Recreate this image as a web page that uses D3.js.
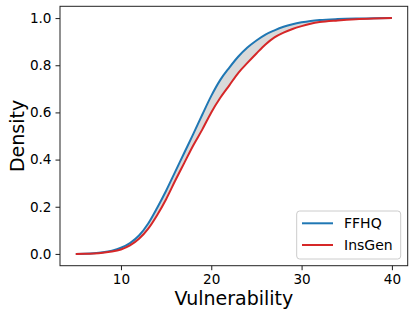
<!DOCTYPE html>
<html><head><meta charset="utf-8">
<script src="https://cdn.jsdelivr.net/npm/d3@7"></script>
<style>html,body{margin:0;padding:0;background:#fff}svg{display:block}</style>
</head><body>
<svg id="chart" width="415" height="317"></svg>
<script>
const vulnerability = [5,6,7,8,9,10,11,12,13,14,15,16,17,18,19,20,21,22,23,24,25,26,27,28,29,30,31,32,34,36,38,40];
const ffhq   = [0,0.001,0.003,0.007,0.014,0.026,0.046,0.078,0.128,0.195,0.268,0.348,0.428,0.508,0.59,0.67,0.738,0.79,0.837,0.875,0.905,0.93,0.948,0.963,0.974,0.982,0.988,0.992,0.996,0.998,0.999,1.0];
const insgen = [0,0.0005,0.002,0.005,0.01,0.019,0.036,0.064,0.106,0.164,0.232,0.31,0.385,0.46,0.527,0.6,0.662,0.715,0.768,0.81,0.85,0.888,0.918,0.938,0.954,0.966,0.976,0.983,0.99,0.995,0.998,1.0];
const xTicks = [10,20,30,40];
const yTicks = [0,0.2,0.4,0.6,0.8,1.0];
const seriesNames = ["FFHQ","InsGen"];
const seriesColors = ["#1f77b4","#d62728"];

const svg = d3.select("#chart");
const L = 60, T = 6.3, R = 407.7, B = 265.7;
const x = d3.scaleLinear().domain([3.25,41.75]).range([L,R]);
const y = d3.scaleLinear().domain([-0.05,1.05]).range([B,T]);
const font = "DejaVu Sans, sans-serif";

const pts = vulnerability.map((v,i)=>({v, a:ffhq[i], b:insgen[i]}));

svg.append("path").datum(pts)
  .attr("d", d3.area().curve(d3.curveMonotoneX).x(d=>x(d.v)).y0(d=>y(d.b)).y1(d=>y(d.a)))
  .attr("fill","#d9d9d9").attr("stroke","none");

[ffhq, insgen].forEach((s,k)=>{
  svg.append("path").datum(vulnerability.map((v,i)=>[v,s[i]]))
    .attr("d", d3.line().curve(d3.curveMonotoneX).x(d=>x(d[0])).y(d=>y(d[1])))
    .attr("fill","none").attr("stroke",seriesColors[k]).attr("stroke-width",2)
    .attr("stroke-linejoin","round");
});

const xa = svg.append("g").attr("transform",`translate(0,${B})`)
  .call(d3.axisBottom(x).tickValues(xTicks).tickFormat(d3.format("d")).tickSizeOuter(0).tickSize(4.5).tickPadding(4));
const ya = svg.append("g").attr("transform",`translate(${L},0)`)
  .call(d3.axisLeft(y).tickValues(yTicks).tickFormat(d3.format(".1f")).tickSizeOuter(0).tickSize(4.5).tickPadding(4));
[xa,ya].forEach(g=>{
  g.select(".domain").remove();
  g.selectAll("text").attr("font-family",font).attr("font-size",13.6).attr("fill","#000");
  g.selectAll("line").attr("stroke","#000").attr("stroke-width",0.9);
});

svg.append("rect").attr("x",L).attr("y",T).attr("width",R-L).attr("height",B-T)
  .attr("fill","none").attr("stroke","#222").attr("stroke-width",1);

svg.append("text").attr("x",(L+R)/2).attr("y",305).attr("text-anchor","middle")
  .attr("font-family",font).attr("font-size",19).text("Vulnerability");
svg.append("text").attr("transform",`translate(24,${(T+B)/2}) rotate(-90)`).attr("text-anchor","middle")
  .attr("font-family",font).attr("font-size",19).text("Density");

const lg = svg.append("g");
lg.append("rect").attr("x",296.7).attr("y",211).attr("width",104).attr("height",48).attr("rx",3)
  .attr("fill","#fff").attr("fill-opacity",0.8).attr("stroke","#ccc").attr("stroke-width",1);
seriesNames.forEach((n,i)=>{
  const cy = 223.3 + i*21.7;
  lg.append("line").attr("x1",302).attr("x2",333).attr("y1",cy).attr("y2",cy)
    .attr("stroke",seriesColors[i]).attr("stroke-width",2);
  lg.append("text").attr("x",344).attr("y",cy).attr("dy","0.35em")
    .attr("font-family",font).attr("font-size",14).text(n);
});
</script>
</body></html>
